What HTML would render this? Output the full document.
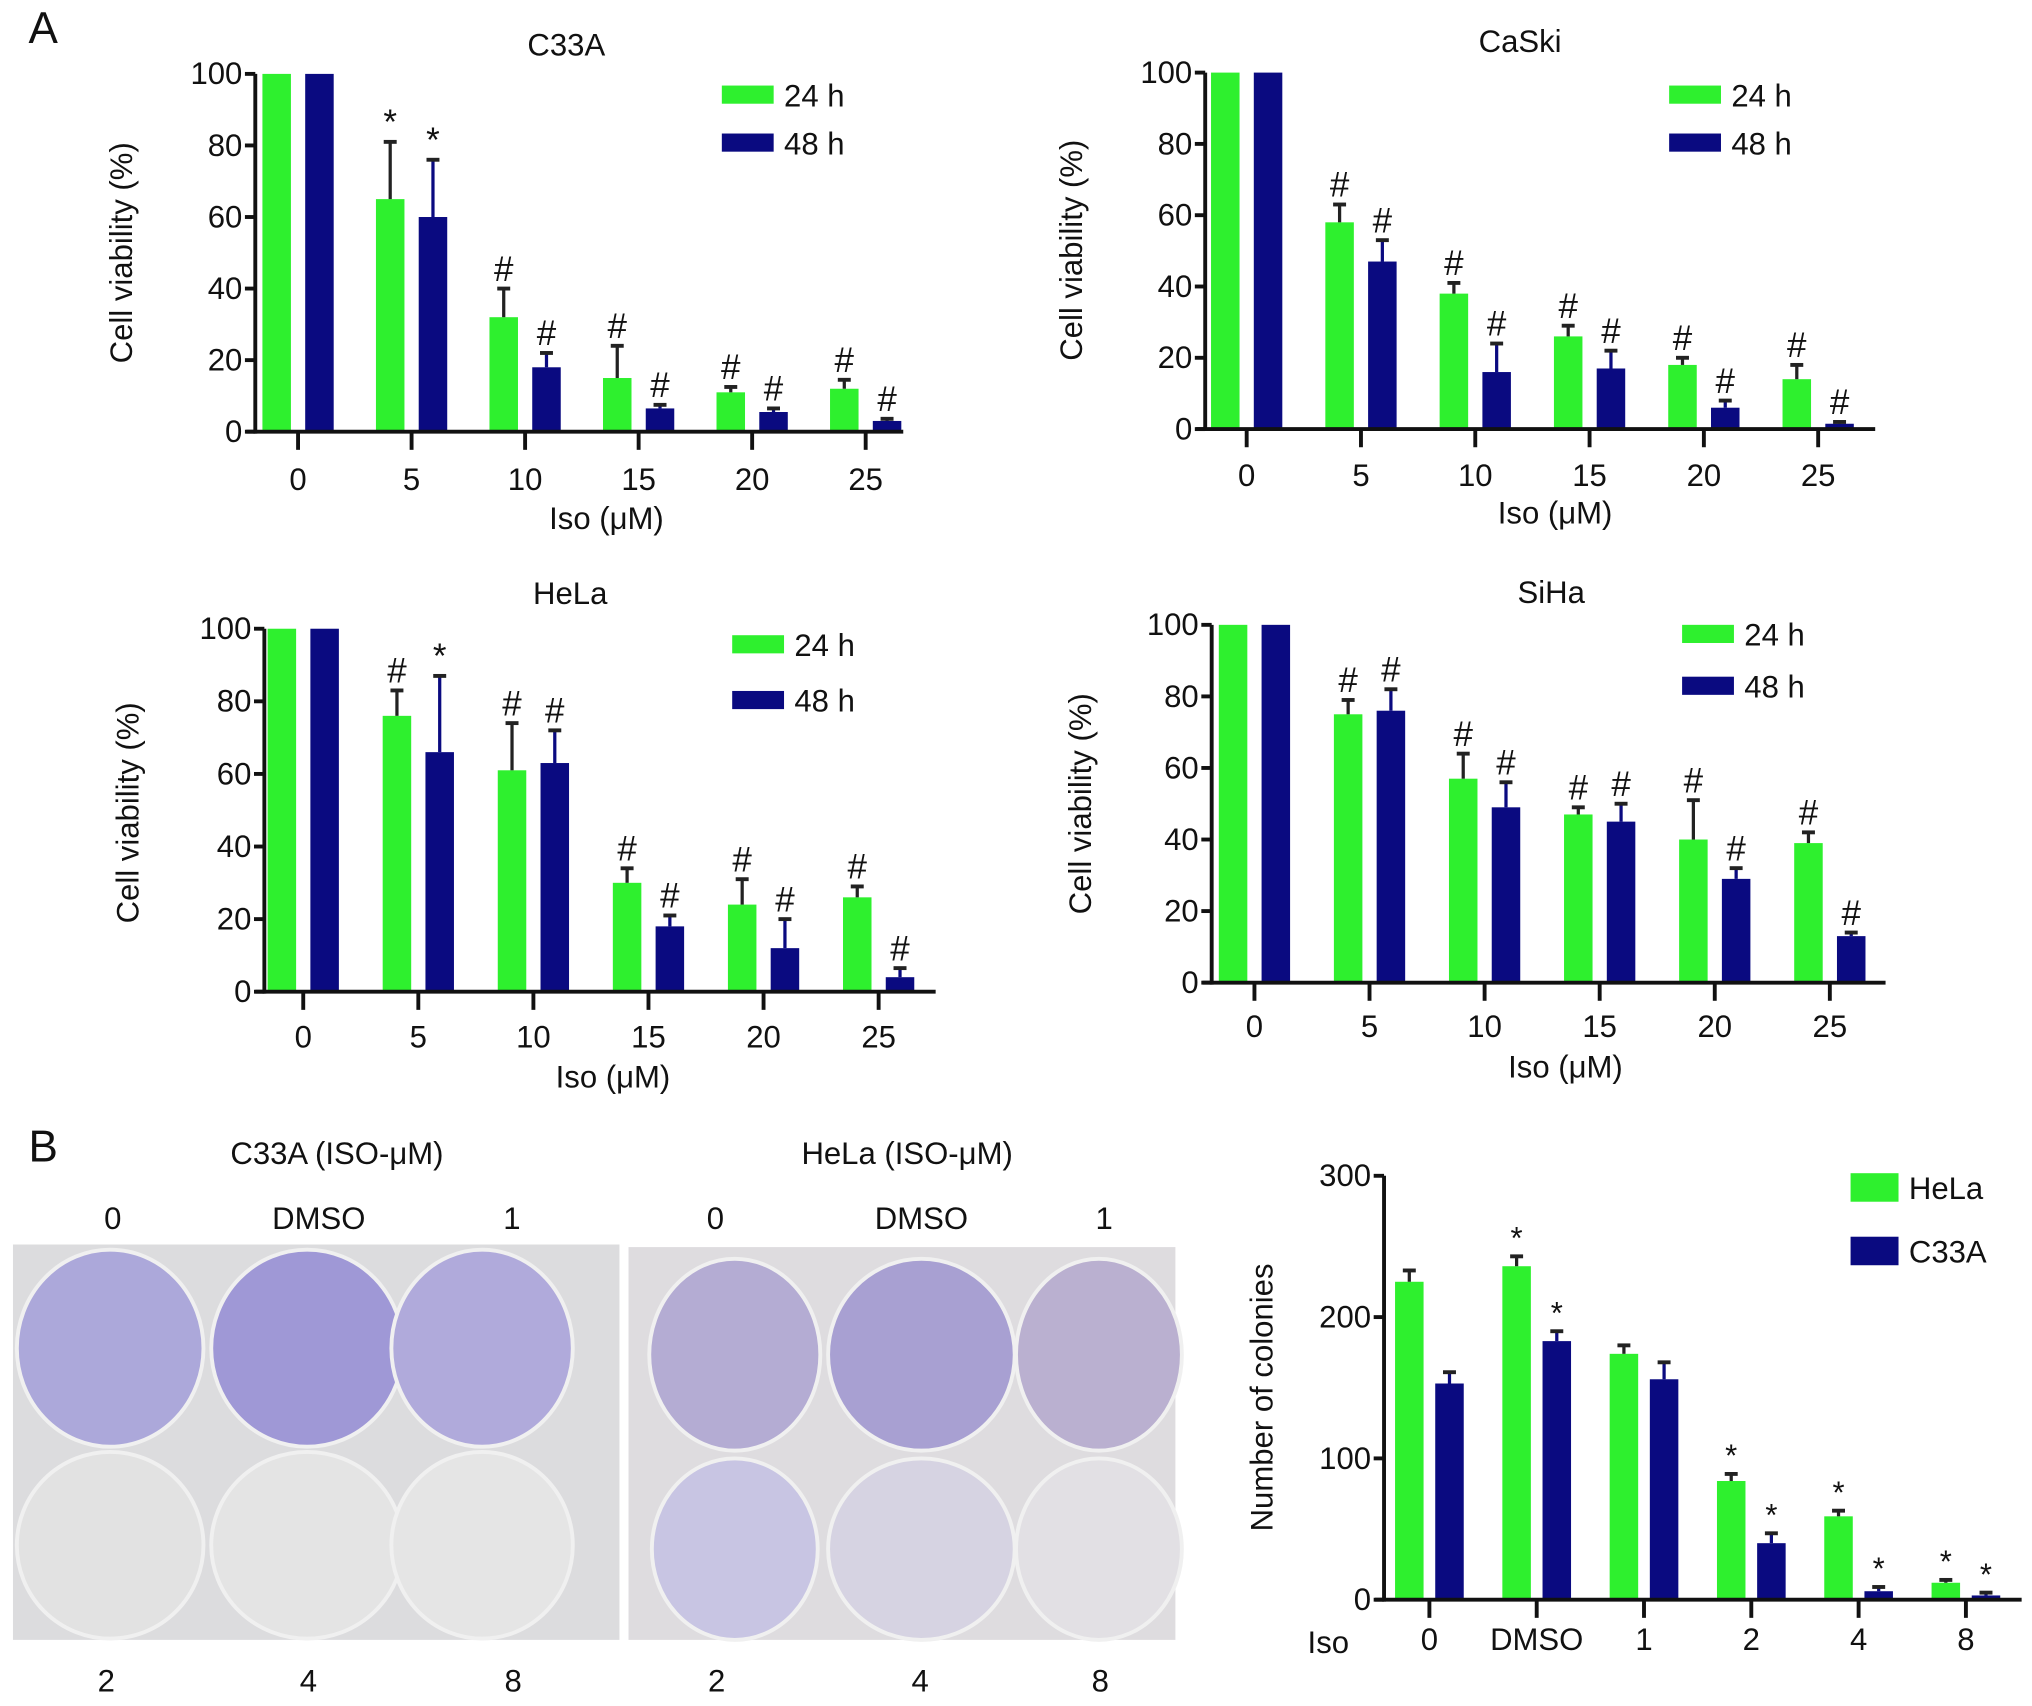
<!DOCTYPE html>
<html><head><meta charset="utf-8"><style>
html,body{margin:0;padding:0;background:#fff;}
svg{display:block;}
text{font-family:"Liberation Sans Narrow","Liberation Sans",sans-serif;fill:#111;}
</style></head><body>
<svg id="fig" width="2032" height="1706" viewBox="0 0 1568 1316" preserveAspectRatio="none" xmlns="http://www.w3.org/2000/svg">
<text x="22" y="33" font-size="34">A</text>
<text x="22" y="896" font-size="34">B</text>
<g id="charts"></g>
<g id="plates">
<text x="260" y="898" font-size="24" text-anchor="middle">C33A (ISO-μM)</text>
<text x="700" y="898" font-size="24" text-anchor="middle">HeLa (ISO-μM)</text>
<g font-size="24" text-anchor="middle">
<text x="87" y="948">0</text><text x="246" y="948">DMSO</text><text x="395" y="948">1</text>
<text x="552" y="948">0</text><text x="711" y="948">DMSO</text><text x="852" y="948">1</text>
<text x="82" y="1305">2</text><text x="238" y="1305">4</text><text x="396" y="1305">8</text>
<text x="553" y="1305">2</text><text x="710" y="1305">4</text><text x="849" y="1305">8</text>
</g>
<rect x="10" y="960" width="468" height="305" fill="#dcdcde"/>
<rect x="485" y="962" width="422" height="303" fill="#dedcdf"/>
<g stroke="#f0f0f0" stroke-width="3">
<ellipse cx="85" cy="1040" rx="72" ry="76" fill="#aca8da"/>
<ellipse cx="237" cy="1040" rx="74" ry="76" fill="#9f98d6"/>
<ellipse cx="372" cy="1040" rx="70" ry="76" fill="#b0aadb"/>
<ellipse cx="85" cy="1192" rx="72" ry="72" fill="#e2e2e2"/>
<ellipse cx="237" cy="1192" rx="74" ry="72" fill="#e4e4e4"/>
<ellipse cx="372" cy="1192" rx="70" ry="72" fill="#e5e5e5"/>
<ellipse cx="567" cy="1045" rx="66" ry="74" fill="#b4acd3"/>
<ellipse cx="711" cy="1045" rx="72" ry="74" fill="#a8a0d2"/>
<ellipse cx="848" cy="1045" rx="64" ry="74" fill="#bab0d0"/>
<ellipse cx="567" cy="1195" rx="64" ry="70" fill="#c8c5e3"/>
<ellipse cx="711" cy="1195" rx="72" ry="70" fill="#d6d3e2"/>
<ellipse cx="848" cy="1195" rx="64" ry="70" fill="#e2e0e4"/>
</g>
</g>
</svg>
<script>
// C33A
const c33aCats = ['0','5','10','15','20','25'];
const c33a24 = [100,65,32,15,11,12];
const c33a24Err = [0,16,8,9,1.5,2.5];
const c33a48 = [100,60,18,6.5,5.5,3];
const c33a48Err = [0,16,4,1,1,0.6];
const c33a24Sig = ['','*','#','#','#','#'];
const c33a48Sig = ['','*','#','#','#','#'];
// CaSki
const caskiCats = ['0','5','10','15','20','25'];
const caski24 = [100,58,38,26,18,14];
const caski24Err = [0,5,3,3,2,4];
const caski48 = [100,47,16,17,6,1.5];
const caski48Err = [0,6,8,5,2,0.5];
const caski24Sig = ['','#','#','#','#','#'];
const caski48Sig = ['','#','#','#','#','#'];
// HeLa
const helaCats = ['0','5','10','15','20','25'];
const hela24 = [100,76,61,30,24,26];
const hela24Err = [0,7,13,4,7,3];
const hela48 = [100,66,63,18,12,4];
const hela48Err = [0,21,9,3,8,2.5];
const hela24Sig = ['','#','#','#','#','#'];
const hela48Sig = ['','*','#','#','#','#'];
// SiHa
const sihaCats = ['0','5','10','15','20','25'];
const siha24 = [100,75,57,47,40,39];
const siha24Err = [0,4,7,2,11,3];
const siha48 = [100,76,49,45,29,13];
const siha48Err = [0,6,7,5,3,1];
const siha24Sig = ['','#','#','#','#','#'];
const siha48Sig = ['','#','#','#','#','#'];
const viabTicks = [0,20,40,60,80,100];
// Colonies
const colCats = ['0','DMSO','1','2','4','8'];
const colHela = [225,236,174,84,59,12];
const colHelaErr = [8,7,6,5,4,2];
const colC33a = [153,183,156,40,6,3];
const colC33aErr = [8,7,12,7,3,2];
const colHelaSig = ['','*','','*','*','*'];
const colC33aSig = ['','*','','*','*','*'];
const colTicks = [0,100,200,300];

const NS='http://www.w3.org/2000/svg';
const root=document.getElementById('charts');
function el(tag,attrs,parent,txt){const e=document.createElementNS(NS,tag);for(const k in attrs)e.setAttribute(k,attrs[k]);if(txt!==undefined)e.textContent=txt;(parent||root).appendChild(e);return e;}
const GREEN='#2ef02e', BLUE='#0a0a80';

function chart(o){
  const g=el('g',{});
  
  
  const y=v=>o.y0-(v/o.ymax)*(o.y0-o.ytop);
  const n=o.cats.length;
  const xc=i=>o.x0+i*(o.x1-o.x0)/(n-1);
  for(let i=0;i<n;i++){
    [[o.s1,o.e1,o.sig1,GREEN,-1,'bar-24h'],[o.s2,o.e2,o.sig2,BLUE,1,'bar-48h']].forEach(([s,e,sig,col,side,nm])=>{
      const cx=xc(i)+side*o.off;
      const r=el('rect',{x:cx-o.bw/2,y:y(s[i]),width:o.bw,height:o.y0-y(s[i]),fill:col},g);
      
      
      if(e[i]>0){
        const t=y(s[i]+e[i]);
        el('line',{x1:cx,x2:cx,y1:y(s[i]),y2:t,stroke:col==GREEN?'#222':BLUE,'stroke-width':2.5},g);
        el('line',{x1:cx-5,x2:cx+5,y1:t,y2:t,stroke:'#222','stroke-width':3},g);
      }
      if(sig[i]){
        const st=el('text',{x:cx,y:y(s[i]+e[i])-6,'font-size':o.sigSize,'text-anchor':'middle'},g,sig[i]);
        
        
      }
    });
  }
  const ya=el('line',{x1:o.ax,x2:o.ax,y1:o.y0+1.5,y2:o.ytop,stroke:'#111','stroke-width':3},g);
  
  
  const xa=el('line',{x1:o.ax-7,x2:o.xend,y1:o.y0,y2:o.y0,stroke:'#111','stroke-width':3},g);
  
  
  o.ticks.forEach(t=>{
    el('line',{x1:o.ax-8,x2:o.ax,y1:y(t),y2:y(t),stroke:'#111','stroke-width':3},g);
    const tl=el('text',{x:o.ax-10,y:y(t)+8,'font-size':24,'text-anchor':'end'},g,String(t));
    
    
  });
  o.cats.forEach((c,i)=>{
    el('line',{x1:xc(i),x2:xc(i),y1:o.y0,y2:o.y0+14,stroke:'#111','stroke-width':3},g);
    const tl=el('text',{x:xc(i),y:o.xlabY,'font-size':24,'text-anchor':'middle'},g,c);
    
    
  });
  if(o.title){const t=el('text',{x:o.tx,y:o.ty,'font-size':24,'text-anchor':'middle'},g,o.title);
    
    }
  if(o.xtitle){const t=el('text',{x:o.xtx,y:o.xty,'font-size':24,'text-anchor':'middle'},g,o.xtitle);
    
    }
  const yt=el('text',{x:0,y:0,'font-size':24,'text-anchor':'middle',transform:`translate(${o.ytx},${o.yty}) rotate(-90)`},g,o.ytitle);
  
  
  [[GREEN,o.l1,o.ly1],[BLUE,o.l2,o.ly2]].forEach(([c,lab,ly])=>{
    const lg=el('g',{},g);
    
    
    el('rect',{x:o.lx,y:ly-o.lh/2,width:o.lw,height:o.lh,fill:c},lg);
    el('text',{x:o.lx+o.lw+8,y:ly+9,'font-size':24},lg,lab);
  });
}
const common={ymax:100,ticks:viabTicks,bw:22,off:16.5,sigSize:27,ytitle:'Cell viability (%)',xtitle:'Iso (μM)',l1:'24 h',l2:'48 h',lw:40,lh:14};
chart(Object.assign({},common,{name:'c33a-chart',cats:c33aCats,s1:c33a24,e1:c33a24Err,s2:c33a48,e2:c33a48Err,sig1:c33a24Sig,sig2:c33a48Sig,
  ax:197,y0:333,ytop:57,x0:230,x1:668,xend:697,xlabY:378,title:'C33A',tx:437,ty:43,xtx:468,xty:408,ytx:102,yty:195,lx:557,ly1:73,ly2:110}));
chart(Object.assign({},common,{name:'caski-chart',cats:caskiCats,s1:caski24,e1:caski24Err,s2:caski48,e2:caski48Err,sig1:caski24Sig,sig2:caski48Sig,
  ax:930,y0:331,ytop:56,x0:962,x1:1403,xend:1447,xlabY:375,title:'CaSki',tx:1173,ty:40,xtx:1200,xty:404,ytx:835,yty:193,lx:1288,ly1:73,ly2:110}));
chart(Object.assign({},common,{name:'hela-chart',cats:helaCats,s1:hela24,e1:hela24Err,s2:hela48,e2:hela48Err,sig1:hela24Sig,sig2:hela48Sig,
  ax:204,y0:765,ytop:485,x0:234,x1:678,xend:722,xlabY:808,title:'HeLa',tx:440,ty:466,xtx:473,xty:839,ytx:107,yty:627,lx:565,ly1:497,ly2:540}));
chart(Object.assign({},common,{name:'siha-chart',cats:sihaCats,s1:siha24,e1:siha24Err,s2:siha48,e2:siha48Err,sig1:siha24Sig,sig2:siha48Sig,
  ax:935,y0:758,ytop:482,x0:968,x1:1412,xend:1455,xlabY:800,title:'SiHa',tx:1197,ty:465,xtx:1208,xty:831,ytx:842,yty:620,lx:1298,ly1:489,ly2:529}));
chart({name:'colony-chart',cats:colCats,s1:colHela,e1:colHelaErr,s2:colC33a,e2:colC33aErr,sig1:colHelaSig,sig2:colC33aSig,
  ymax:300,ticks:colTicks,bw:22,off:15.5,sigSize:24,ax:1068,y0:1234,ytop:907,x0:1103,x1:1517,xend:1560,xlabY:1273,
  title:'',xtitle:'',ytitle:'Number of colonies',ytx:982,yty:1078,l1:'HeLa',l2:'C33A',lx:1428,ly1:916,ly2:965,lw:37,lh:22});
const iso=el('text',{x:1025,y:1275,'font-size':24,'text-anchor':'middle'},root,'Iso');


</script>
</body></html>
